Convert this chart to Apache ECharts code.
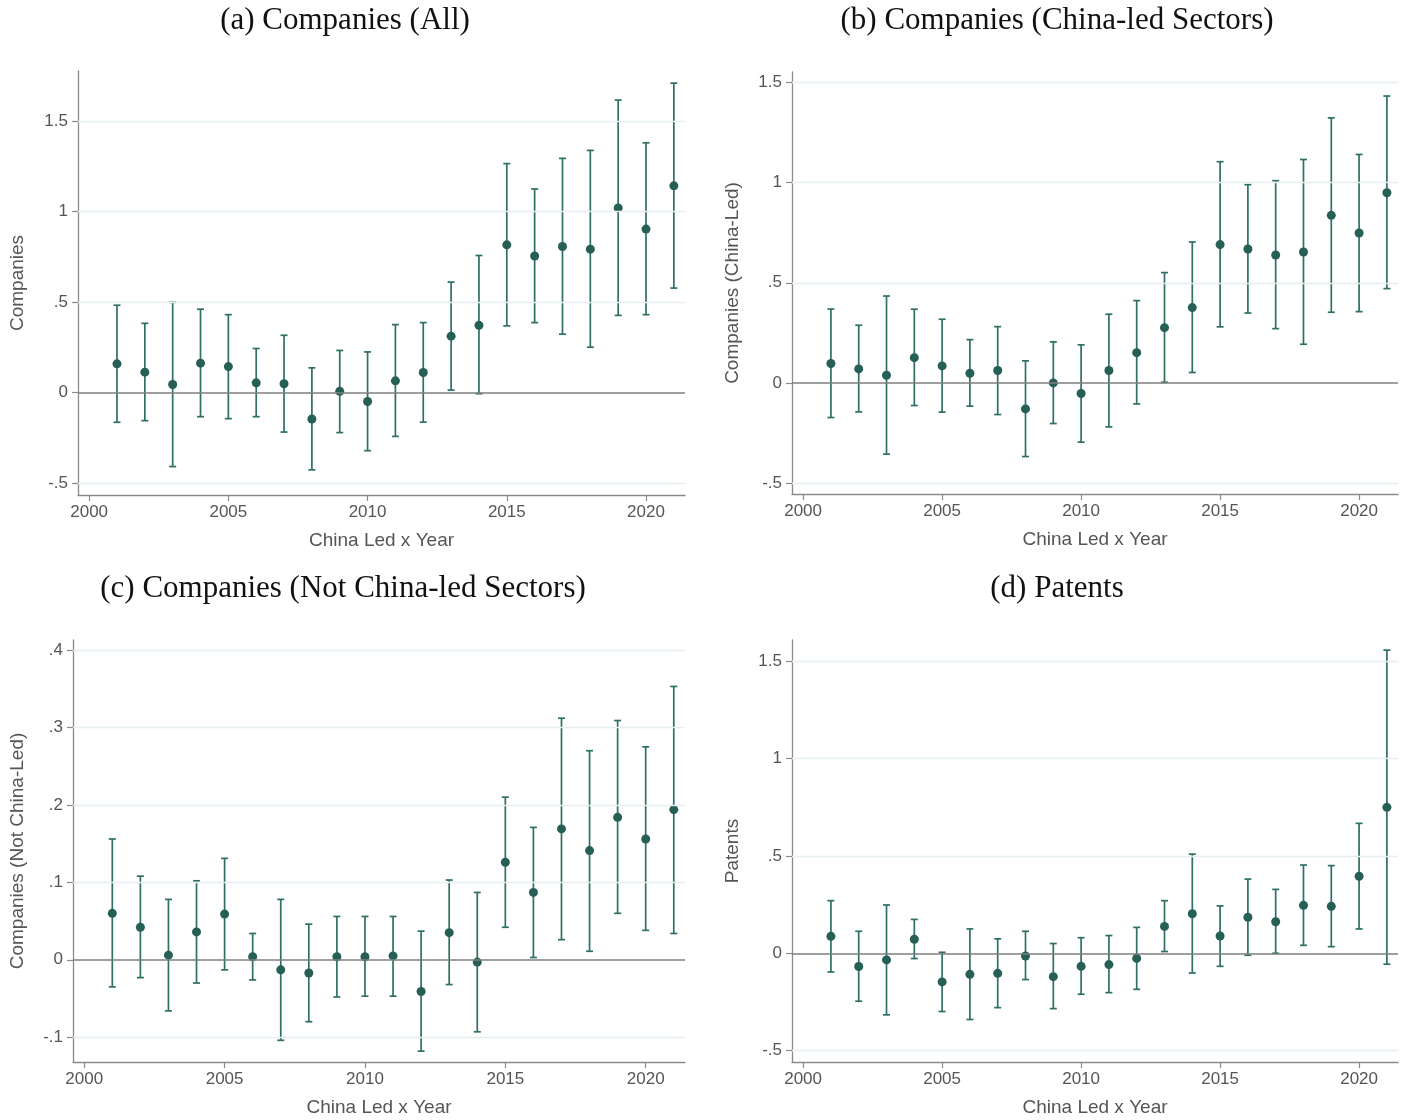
<!DOCTYPE html>
<html>
<head>
<meta charset="utf-8">
<title>China Led x Year — event-study estimates</title>
<script src="https://cdn.jsdelivr.net/npm/echarts@6/dist/echarts.min.js"></script>
<style>
  html, body { margin: 0; padding: 0; background: #ffffff; }
  #chart { width: 1414px; height: 1120px; }
</style>
</head>
<body>
<div id="chart"></div>
<script>
// Years of the China Led x Year interaction
const years = [2001, 2002, 2003, 2004, 2005, 2006, 2007, 2008, 2009, 2010, 2011,
               2012, 2013, 2014, 2015, 2016, 2017, 2018, 2019, 2020, 2021];

// (a) Companies (All): point estimate and 95% CI bounds
const allEst = [0.158, 0.112, 0.044, 0.162, 0.143, 0.053, 0.048, -0.147, 0.006, -0.050, 0.064,
                0.110, 0.311, 0.371, 0.816, 0.754, 0.807, 0.792, 1.020, 0.903, 1.142];
const allLo  = [-0.165, -0.156, -0.410, -0.134, -0.145, -0.134, -0.219, -0.428, -0.222, -0.322, -0.243,
                -0.164, 0.013, -0.007, 0.368, 0.386, 0.322, 0.250, 0.426, 0.430, 0.577];
const allHi  = [0.482, 0.382, 0.498, 0.460, 0.430, 0.243, 0.316, 0.136, 0.232, 0.224, 0.375,
                0.386, 0.610, 0.757, 1.265, 1.125, 1.294, 1.338, 1.616, 1.380, 1.710];

// (b) Companies (China-led Sectors)
const ledEst = [0.097, 0.070, 0.038, 0.126, 0.085, 0.048, 0.062, -0.130, 0.000, -0.053, 0.062,
                0.151, 0.276, 0.376, 0.691, 0.669, 0.639, 0.654, 0.837, 0.749, 0.950];
const ledLo  = [-0.173, -0.145, -0.356, -0.113, -0.146, -0.116, -0.158, -0.368, -0.203, -0.296, -0.220,
                -0.105, 0.003, 0.052, 0.280, 0.349, 0.271, 0.193, 0.353, 0.356, 0.471];
const ledHi  = [0.369, 0.288, 0.434, 0.368, 0.318, 0.216, 0.281, 0.110, 0.205, 0.190, 0.343,
                0.411, 0.551, 0.704, 1.105, 0.990, 1.010, 1.116, 1.324, 1.141, 1.433];

// (c) Companies (Not China-led Sectors)
const notEst = [0.060, 0.042, 0.006, 0.036, 0.059, 0.004, -0.013, -0.017, 0.004, 0.004, 0.005,
                -0.041, 0.035, -0.003, 0.126, 0.087, 0.169, 0.141, 0.184, 0.156, 0.194];
const notLo  = [-0.035, -0.023, -0.066, -0.030, -0.013, -0.026, -0.104, -0.080, -0.048, -0.047, -0.047,
                -0.118, -0.032, -0.093, 0.042, 0.003, 0.026, 0.011, 0.060, 0.038, 0.034];
const notHi  = [0.156, 0.108, 0.078, 0.102, 0.131, 0.034, 0.078, 0.046, 0.056, 0.056, 0.056,
                0.037, 0.103, 0.087, 0.210, 0.171, 0.312, 0.270, 0.309, 0.275, 0.353];

// (d) Patents
const patEst = [0.087, -0.068, -0.034, 0.072, -0.147, -0.108, -0.103, -0.014, -0.120, -0.067, -0.058,
                -0.026, 0.138, 0.203, 0.089, 0.185, 0.162, 0.246, 0.241, 0.395, 0.749];
const patLo  = [-0.096, -0.246, -0.316, -0.027, -0.299, -0.340, -0.279, -0.135, -0.284, -0.210, -0.202,
                -0.185, 0.009, -0.101, -0.067, -0.010, 0.000, 0.041, 0.034, 0.125, -0.056];
const patHi  = [0.270, 0.113, 0.248, 0.174, 0.005, 0.125, 0.074, 0.113, 0.050, 0.080, 0.091,
                0.133, 0.270, 0.509, 0.243, 0.381, 0.328, 0.453, 0.450, 0.667, 1.556];

// Tick values
const xTicks = [2000, 2005, 2010, 2015, 2020];
const yTicksWide = [-0.5, 0, 0.5, 1, 1.5];
const yTicksNarrow = [-0.1, 0, 0.1, 0.2, 0.3, 0.4];

// Panel titles and y-axis names
const titles = ['(a) Companies (All)', '(b) Companies (China-led Sectors)',
                '(c) Companies (Not China-led Sectors)', '(d) Patents'];
const yNames = ['Companies', 'Companies (China-Led)', 'Companies (Not China-Led)', 'Patents'];
const xName = 'China Led x Year';

// ---- styling / layout ----
const DOT = '#255f56';
const BAR = '#2e6f66';
const GRIDLINE = '#e6eff0';
const AXIS = '#8a8a8a';
const TEXT = '#555555';
const SANS = '"Liberation Sans", Arial, sans-serif';
const SERIF = '"Liberation Serif", "Times New Roman", serif';

const panels = [
  { est: allEst, lo: allLo, hi: allHi, ticks: yTicksWide, ymin: -0.567, ymax: 1.777,
    grid: { left: 78, top: 71, width: 607, height: 424 }, nameGap: 51, title: [345, 21] },
  { est: ledEst, lo: ledLo, hi: ledHi, ticks: yTicksWide, ymin: -0.555, ymax: 1.553,
    grid: { left: 792, top: 72, width: 606, height: 422 }, nameGap: 50, title: [1057, 21] },
  { est: notEst, lo: notLo, hi: notHi, ticks: yTicksNarrow, ymin: -0.132, ymax: 0.413,
    grid: { left: 73, top: 640, width: 612, height: 422 }, nameGap: 46, title: [343, 589] },
  { est: patEst, lo: patLo, hi: patHi, ticks: yTicksWide, ymin: -0.558, ymax: 1.608,
    grid: { left: 792, top: 640, width: 606, height: 422 }, nameGap: 50, title: [1057, 589] }
];

function fmtTick(v) {
  return String(v).replace(/^(-?)0\./, '$1.');
}

const grids = [], xAxes = [], yAxes = [], series = [], graphics = [];

panels.forEach(function (p, i) {
  grids.push(Object.assign({ containLabel: false }, p.grid));

  xAxes.push({
    type: 'value', gridIndex: i, min: 1999.6, max: 2021.4,
    name: xName, nameLocation: 'middle', nameGap: 36,
    nameTextStyle: { color: TEXT, fontFamily: SANS, fontSize: 19 },
    axisLine: { show: true, onZero: false, lineStyle: { color: AXIS, width: 1.3 } },
    axisTick: { show: true, length: 6, customValues: xTicks, lineStyle: { color: AXIS, width: 1.2 } },
    axisLabel: { customValues: xTicks, margin: 9, color: TEXT, fontFamily: SANS, fontSize: 17,
                 formatter: function (v) { return String(v); } },
    splitLine: { show: false }
  });

  yAxes.push({
    type: 'value', gridIndex: i, min: p.ymin, max: p.ymax,
    name: yNames[i], nameLocation: 'middle', nameGap: p.nameGap,
    nameTextStyle: { color: TEXT, fontFamily: SANS, fontSize: 19 },
    axisLine: { show: true, onZero: false, lineStyle: { color: AXIS, width: 1.3 } },
    axisTick: { show: true, length: 6, customValues: p.ticks, lineStyle: { color: AXIS, width: 1.2 } },
    axisLabel: { customValues: p.ticks, margin: 10, color: TEXT, fontFamily: SANS, fontSize: 17,
                 formatter: fmtTick },
    splitLine: { show: false }
  });

  // horizontal grid lines at the labelled ticks, and the zero reference line
  const gridLines = p.ticks.filter(function (t) { return t !== 0; }).map(function (t) {
    return { yAxis: t, lineStyle: { color: GRIDLINE, width: 1.3, type: 'solid' } };
  });
  gridLines.push({ yAxis: 0, lineStyle: { color: '#7f7f7f', width: 1.5, type: 'solid' } });

  const ciData = years.map(function (y, k) { return [y, p.lo[k], p.hi[k]]; });
  const ptData = years.map(function (y, k) { return [y, p.est[k]]; });

  series.push({
    type: 'line', xAxisIndex: i, yAxisIndex: i, data: [], silent: true, z: 1,
    markLine: { silent: true, symbol: 'none', label: { show: false }, animation: false,
                data: gridLines }
  });

  series.push({
    type: 'custom', xAxisIndex: i, yAxisIndex: i, data: ciData, z: 3, silent: true,
    encode: { x: 0, y: [1, 2] },
    renderItem: function (params, api) {
      const x = api.value(0);
      const a = api.coord([x, api.value(1)]);
      const b = api.coord([x, api.value(2)]);
      const hw = 3.5;
      const st = { stroke: BAR, lineWidth: 1.7 };
      return {
        type: 'group',
        children: [
          { type: 'line', shape: { x1: a[0], y1: a[1], x2: b[0], y2: b[1] }, style: st },
          { type: 'line', shape: { x1: a[0] - hw, y1: a[1], x2: a[0] + hw, y2: a[1] }, style: st },
          { type: 'line', shape: { x1: b[0] - hw, y1: b[1], x2: b[0] + hw, y2: b[1] }, style: st }
        ]
      };
    }
  });

  series.push({
    type: 'scatter', xAxisIndex: i, yAxisIndex: i, data: ptData, z: 4,
    symbol: 'circle', symbolSize: 9, itemStyle: { color: DOT, opacity: 1 }
  });

  graphics.push({
    type: 'text', x: p.title[0], y: p.title[1],
    style: { text: titles[i], font: '31px ' + SERIF, fill: '#111111',
             textAlign: 'center', textVerticalAlign: 'middle' }
  });
});

const chart = echarts.init(document.getElementById('chart'), null, { renderer: 'canvas' });
chart.setOption({
  backgroundColor: '#ffffff',
  animation: false,
  grid: grids,
  xAxis: xAxes,
  yAxis: yAxes,
  series: series,
  graphic: graphics
});
</script>
</body>
</html>
